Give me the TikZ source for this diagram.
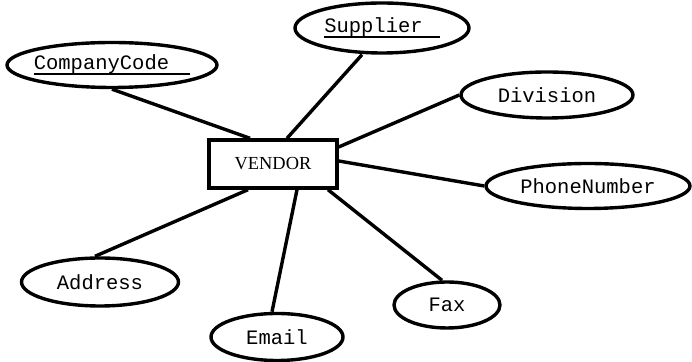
\documentclass[tikz,border=0pt]{standalone}
\usepackage{fontspec}
\setmainfont{Liberation Serif}
\setmonofont{Liberation Mono}
\usetikzlibrary{shapes.geometric}
\newcommand{\keyattr}[2]{\setbox0\hbox{#1\hspace{#2}}\rlap{\rule[-2.6pt]{\wd0}{1.1pt}}\box0}

\begin{document}
\begin{tikzpicture}[x=0.5pt,y=-0.5pt,line width=1.7pt,
 attr/.style={ellipse,draw,inner xsep=-3pt,inner ysep=0pt,font=\ttfamily\fontsize{10.25}{12}\selectfont},
 entity/.style={rectangle,draw,inner sep=0pt,minimum width=64pt,minimum height=24pt,font=\fontsize{9.2}{11}\selectfont}]
\useasboundingbox (0,0) rectangle (692,362);
\node[entity] (vendor) at (273,164) {VENDOR};
\node[attr,minimum width=105pt,minimum height=22.5pt] (code) at (112,65) {\keyattr{CompanyCode}{10.5pt}};
\node[attr,minimum width=87pt,minimum height=25pt] (supplier) at (382,28) {\keyattr{Supplier}{8.5pt}};
\node[attr,minimum width=86pt,minimum height=23pt] (division) at (547,95) {Division};
\node[attr,minimum width=102pt,minimum height=22.5pt] (phone) at (588,186) {PhoneNumber};
\node[attr,minimum width=53pt,minimum height=23pt] (fax) at (447,305) {Fax};
\node[attr,minimum width=66pt,minimum height=23.5pt] (email) at (277,337) {Email};
\node[attr,minimum width=78.5pt,minimum height=24pt] (address) at (100,282) {Address};
\draw (code.south) -- ([xshift=-11.5pt]vendor.north);
\draw ([xshift=-10pt]supplier.south) -- ([xshift=7pt]vendor.north);
\draw (division.west) -- ([yshift=8.5pt]vendor.east);
\draw (phone.west) -- ([yshift=1.5pt]vendor.east);
\draw ([xshift=-2.5pt]fax.north) -- ([xshift=27.5pt]vendor.south);
\draw ([xshift=-2.5pt]email.north) -- ([xshift=12pt]vendor.south);
\draw ([xshift=-2.5pt]address.north) -- ([xshift=-12.5pt]vendor.south);
\end{tikzpicture}
\end{document}
